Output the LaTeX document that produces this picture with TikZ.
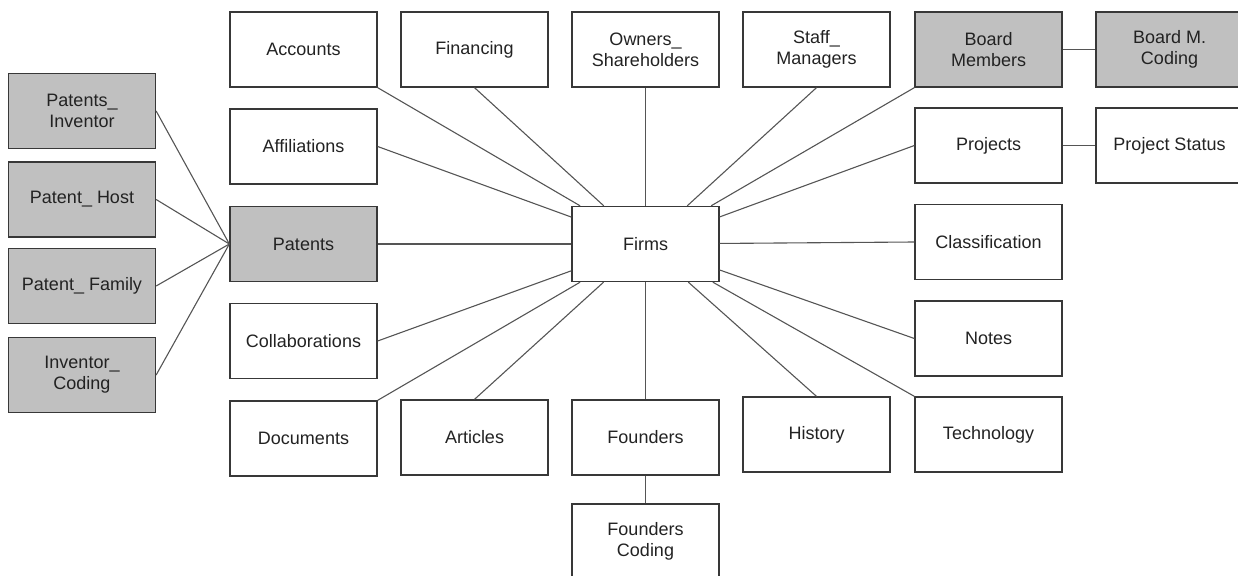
\documentclass[tikz,border=0pt]{standalone}
\usepackage{fontspec}
\setmainfont{Liberation Sans}
\definecolor{boxline}{HTML}{383838}
\definecolor{boxfill}{HTML}{C0C0C0}
\definecolor{linkcol}{HTML}{555555}
\definecolor{txt}{HTML}{222222}
\begin{document}
\begin{tikzpicture}[x=1pt,y=-1pt,
	box/.style={draw=boxline,line width=1.3pt,minimum width=147pt,minimum height=75pt,inner sep=0pt,align=center,text=txt,font=\fontsize{18}{21}\selectfont},
	greybox/.style={box,fill=boxfill},
	link/.style={draw=linkcol,line width=1.1pt}]
	\clip (0,0) rectangle (1238,575);
	%LEFT GROUP
	\node[greybox] (pinv) at (82,111) {Patents\_\\Inventor};
	\node[greybox] (phost) at (82,199.5) {Patent\_ Host};
	\node[greybox] (pfam) at (82,286) {Patent\_ Family};
	\node[greybox] (icod) at (82,375) {Inventor\_\\Coding};
	%TOP ROW
	\node[box] (acc) at (303.5,49.5) {Accounts};
	\node[box] (fin) at (474.5,49.5) {Financing};
	\node[box] (own) at (645.5,49.5) {Owners\_\\Shareholders};
	\node[box] (staff) at (816.5,49.5) {Staff\_\\Managers};
	\node[greybox] (board) at (988.5,49.5) {Board\\Members};
	\node[greybox] (bcod) at (1169.5,49.5) {Board M.\\Coding};
	%MIDDLE
	\node[box] (aff) at (303.5,146.5) {Affiliations};
	\node[box] (proj) at (988.5,145.5) {Projects};
	\node[box] (pstat) at (1169.5,145.5) {Project Status};
	\node[greybox] (pat) at (303.5,244) {Patents};
	\node[box] (firms) at (645.5,244) {Firms};
	\node[box] (cls) at (988.5,242) {Classification};
	\node[box] (coll) at (303.5,341) {Collaborations};
	\node[box] (notes) at (988.5,338.5) {Notes};
	%BOTTOM ROW
	\node[box] (docs) at (303.5,438.5) {Documents};
	\node[box] (art) at (474.5,437.5) {Articles};
	\node[box] (fnd) at (645.5,437.5) {Founders};
	\node[box] (hist) at (816.5,434.5) {History};
	\node[box] (tech) at (988.5,434.5) {Technology};
	\node[box] (fcod) at (645.5,541.5) {Founders\\Coding};
	%LINKS
	\foreach \t in {acc.south east,fin.south,own.south,staff.south,board.south west,aff.east,proj.west,pat.east,cls.west,coll.east,notes.west,docs.north east,art.north,fnd.north,hist.north,tech.north west}
		\draw[link] (firms) -- (\t);
	\foreach \s in {pinv,phost,pfam,icod}
		\draw[link] (\s.east) -- (pat.west);
	\draw[link] (board) -- (bcod);
	\draw[link] (proj) -- (pstat);
	\draw[link] (fnd) -- (fcod);
\end{tikzpicture}
\end{document}
